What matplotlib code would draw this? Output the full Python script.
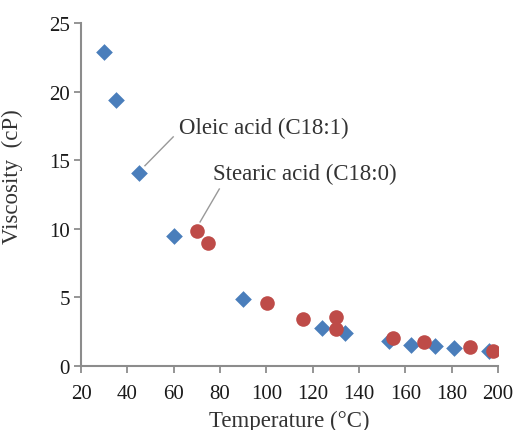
import matplotlib
matplotlib.use('Agg')
import matplotlib.pyplot as plt

# viscosity vs temperature
oleic_T = [30, 35, 45, 60, 90, 124, 134, 153, 162.5, 173, 181, 196]
oleic_v = [22.9, 19.4, 14.05, 9.45, 4.9, 2.75, 2.4, 1.85, 1.55, 1.45, 1.32, 1.08]

stearic_T = [70, 75, 100.5, 116, 130, 130, 154.5, 168, 188, 198]
stearic_v = [9.85, 9.0, 4.6, 3.45, 3.55, 2.7, 2.05, 1.75, 1.35, 1.12]

xticks = [20, 40, 60, 80, 100, 120, 140, 160, 180, 200]
yticks = [0, 5, 10, 15, 20, 25]

plt.rcParams['font.family'] = ['Liberation Serif', 'DejaVu Serif']
axis_grey = '#8c8c8c'
text_col = '#333333'

fig = plt.figure(figsize=(5.2, 4.31), dpi=100)
ax = fig.add_axes([81/520, 1 - 367/431, 417/520, 343/431])

ax.scatter(oleic_T, oleic_v, marker='D', s=8.5**2, color='#4a7ebb', linewidths=0, zorder=3)
ax.scatter(stearic_T, stearic_v, marker='o', s=10.5**2, color='#be4b48', linewidths=0, zorder=3)

ax.set_xlim(20, 200)
ax.set_ylim(0, 25)
ax.set_xticks(xticks)
ax.set_yticks(yticks)
ax.tick_params(labelsize=15, colors=axis_grey, labelcolor='#1a1a1a', length=5, width=1.3)
ax.tick_params(axis='x', pad=8)
ax.tick_params(axis='y', pad=3)
for side in ['top', 'right']:
    ax.spines[side].set_visible(False)
for side in ['left', 'bottom']:
    ax.spines[side].set_color(axis_grey)
    ax.spines[side].set_linewidth(1.5)

ax.set_xlabel('Temperature (°C)', fontsize=16.5, color=text_col, labelpad=5)
ax.set_ylabel('Viscosity  (cP)', fontsize=16.5, color=text_col)
ax.yaxis.set_label_coords(-0.139, 0.554)

# data labels with leader lines
ax.plot([47.6, 59.8], [14.6, 16.7], color='#999999', lw=1, clip_on=False)
ax.text(62.3, 17.4, 'Oleic acid (C18:1)', fontsize=16.5, color=text_col, va='center', ha='left')
ax.plot([71.4, 79.7], [10.5, 12.9], color='#999999', lw=1, clip_on=False)
ax.text(76.8, 14.0, 'Stearic acid (C18:0)', fontsize=16.5, color=text_col, va='center', ha='left')

fig.savefig('out.png', dpi=100)
